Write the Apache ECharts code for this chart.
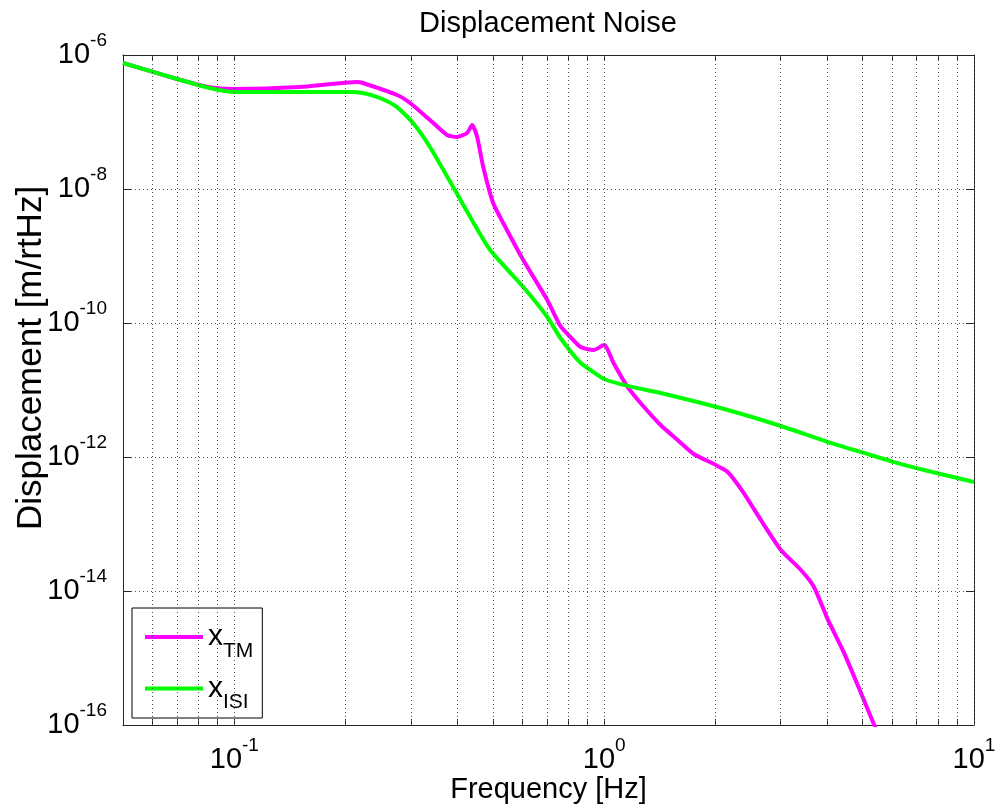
<!DOCTYPE html>
<html>
<head>
<meta charset="utf-8">
<title>Displacement Noise</title>
<script src="https://cdn.jsdelivr.net/npm/echarts@6/dist/echarts.min.js"></script>
<style>
  html, body { margin: 0; padding: 0; background: #fff; }
  #chart { width: 1000px; height: 810px; }
</style>
</head>
<body>
<div id="chart"></div>
<script>
// test mass displacement (magenta)
const tmFreq = [0.05, 0.07, 0.085, 0.1, 0.15, 0.2145, 0.2227, 0.2753, 0.2987, 0.338, 0.376, 0.4003, 0.426, 0.4396, 0.4535, 0.471, 0.501, 0.5334, 0.6043, 0.7018, 0.7614, 0.81, 0.863, 0.936, 1.0, 1.06, 1.157, 1.254, 1.421, 1.58, 1.746, 2.003, 2.158, 2.385, 2.652, 3.005, 3.404, 3.692, 4.029, 4.452, 5.012, 5.61];
const tmDisp = [7.6e-7, 4.38e-7, 3.33e-7, 3.11e-7, 3.33e-7, 3.95e-7, 3.82e-7, 2.53e-7, 1.92e-7, 1.07e-7, 6.4e-8, 5.97e-8, 6.86e-8, 9.0e-8, 5.97e-8, 2.13e-8, 6.18e-9, 3.11e-9, 8.7e-10, 2.2e-10, 9.0e-11, 6.18e-11, 4.39e-11, 3.95e-11, 4.7e-11, 2.53e-11, 1.11e-11, 6.4e-12, 3.0e-12, 1.79e-12, 1.11e-12, 7.6e-13, 5.97e-13, 2.9e-13, 1.15e-13, 4.09e-14, 2.06e-14, 1.15e-14, 3.7e-15, 1.19e-15, 2.53e-16, 5.6e-17];

// ISI displacement (green)
const isiFreq = [0.05, 0.07, 0.0857, 0.1, 0.15, 0.205, 0.2227, 0.2475, 0.2753, 0.3042, 0.338, 0.3906, 0.4342, 0.4918, 0.6043, 0.7018, 0.7614, 0.863, 0.918, 1.0, 1.157, 1.421, 2.158, 3.005, 4.029, 5.04, 6.076, 7.51, 10];
const isiDisp = [7.6e-7, 4.38e-7, 3.22e-7, 2.81e-7, 2.81e-7, 2.81e-7, 2.71e-7, 2.28e-7, 1.67e-7, 9.66e-8, 4.24e-8, 1.07e-8, 3.82e-9, 1.23e-9, 3.44e-10, 1.23e-10, 5.97e-11, 2.53e-11, 1.99e-11, 1.46e-11, 1.15e-11, 9.0e-12, 5.03e-12, 2.9e-12, 1.67e-12, 1.15e-12, 8.4e-13, 6.18e-13, 4.24e-13];

// axis ticks
const xLabelTicks = [0.1, 1, 10];
const xMinorTicks = [0.06, 0.07, 0.08, 0.09, 0.1, 0.2, 0.3, 0.4, 0.5, 0.6, 0.7, 0.8, 0.9, 1, 2, 3, 4, 5, 6, 7, 8, 9, 10];
const yTicks = [1e-16, 1e-14, 1e-12, 1e-10, 1e-8, 1e-6];

const seriesNames = ['xTM', 'xISI'];
const subscripts = { xTM: 'TM', xISI: 'ISI' };

const FONT = '"Liberation Sans", Arial, Helvetica, sans-serif';
const AXIS_COLOR = '#262626';

const chart = echarts.init(document.getElementById('chart'));

function zip(xs, ys) {
  return xs.map((x, i) => [x, ys[i]]);
}

function powLabel(v) {
  const p = Math.round(Math.log10(v));
  return '{b|10}{e|' + p + '}';
}

const powRich = {
  b: { fontSize: 29, fontFamily: FONT, color: '#000', lineHeight: 48 },
  e: { fontSize: 19, fontFamily: FONT, color: '#000', lineHeight: 19, verticalAlign: 'top' },
};

const dotted = { color: '#555', width: 1, type: [1, 3] };

const option = {
  backgroundColor: '#fff',
  animation: false,
  title: {
    text: 'Displacement Noise',
    left: 548,
    top: 9,
    padding: 0,
    textAlign: 'center',
    textStyle: { fontFamily: FONT, fontSize: 29, fontWeight: 'normal', color: '#000', lineHeight: 30 },
  },
  grid: { left: 123, top: 55, right: 26, bottom: 85, containLabel: false, outerBoundsMode: 'none' },
  legend: {
    data: seriesNames,
    orient: 'vertical',
    left: 132,
    top: 608,
    padding: [14, 9, 5, 11],
    itemGap: 12,
    itemWidth: 58,
    itemHeight: 4,
    backgroundColor: '#fff',
    borderColor: '#000',
    borderWidth: 1,
    borderRadius: 0,
    lineStyle: { width: 4 },
    formatter: (name) => '{x|x}{s|' + subscripts[name] + '}',
    textStyle: {
      rich: {
        x: { fontSize: 30, fontFamily: FONT, color: '#000', lineHeight: 49 },
        s: { fontSize: 21, fontFamily: FONT, color: '#000', lineHeight: 21, verticalAlign: 'bottom' },
      },
    },
  },
  xAxis: [
    {
      type: 'log',
      logBase: 10,
      min: 0.05,
      max: 10,
      name: 'Frequency [Hz]',
      nameLocation: 'middle',
      nameGap: 50,
      nameMoveOverlap: false,
      nameTextStyle: { fontFamily: FONT, fontSize: 29, color: '#000', lineHeight: 29 },
      axisLine: { lineStyle: { color: AXIS_COLOR, width: 1 } },
      axisTick: { inside: true, length: 6, customValues: xMinorTicks, lineStyle: { color: AXIS_COLOR } },
      axisLabel: { customValues: xLabelTicks, formatter: powLabel, rich: powRich, margin: 11 },
      splitLine: { show: false },
    },
    {
      type: 'log',
      logBase: 10,
      min: 0.05,
      max: 10,
      position: 'top',
      axisLine: { lineStyle: { color: AXIS_COLOR, width: 1 } },
      axisTick: { inside: true, length: 6, customValues: xMinorTicks, lineStyle: { color: AXIS_COLOR } },
      axisLabel: { show: false },
      splitLine: { show: false },
    },
  ],
  yAxis: [
    {
      type: 'log',
      logBase: 10,
      min: 1e-16,
      max: 1e-6,
      name: 'Displacement [m/rtHz]',
      nameLocation: 'middle',
      nameGap: 74,
      nameMoveOverlap: false,
      nameTextStyle: { fontFamily: FONT, fontSize: 35, color: '#000', lineHeight: 35, padding: [0, 0, 0, 64] },
      axisLine: { show: true, lineStyle: { color: AXIS_COLOR, width: 1 } },
      axisTick: { show: true, inside: true, length: 8, customValues: yTicks, lineStyle: { color: AXIS_COLOR } },
      axisLabel: { customValues: yTicks, formatter: powLabel, rich: powRich, margin: 16 },
      splitLine: { show: true, lineStyle: dotted },
    },
    {
      type: 'log',
      logBase: 10,
      min: 1e-16,
      max: 1e-6,
      position: 'right',
      axisLine: { show: true, lineStyle: { color: AXIS_COLOR, width: 1 } },
      axisTick: { show: true, inside: true, length: 8, customValues: yTicks, lineStyle: { color: AXIS_COLOR } },
      axisLabel: { show: false },
      splitLine: { show: false },
    },
  ],
  series: [
    {
      // vertical grid lines at every decade subdivision
      name: 'grid',
      type: 'line',
      data: [],
      silent: true,
      z: 1,
      markLine: {
        silent: true,
        symbol: 'none',
        label: { show: false },
        lineStyle: dotted,
        data: xMinorTicks.map((v) => ({ xAxis: v })),
      },
    },
    {
      name: 'xTM',
      type: 'line',
      data: zip(tmFreq, tmDisp),
      showSymbol: false,
      symbol: 'none',
      smooth: 0.2,
      z: 3,
      color: '#ff00ff',
      lineStyle: { color: '#ff00ff', width: 4 },
    },
    {
      name: 'xISI',
      type: 'line',
      data: zip(isiFreq, isiDisp),
      showSymbol: false,
      symbol: 'none',
      smooth: 0.2,
      z: 3,
      color: '#00ff00',
      lineStyle: { color: '#00ff00', width: 4 },
    },
  ],
};

chart.setOption(option);
</script>
</body>
</html>
